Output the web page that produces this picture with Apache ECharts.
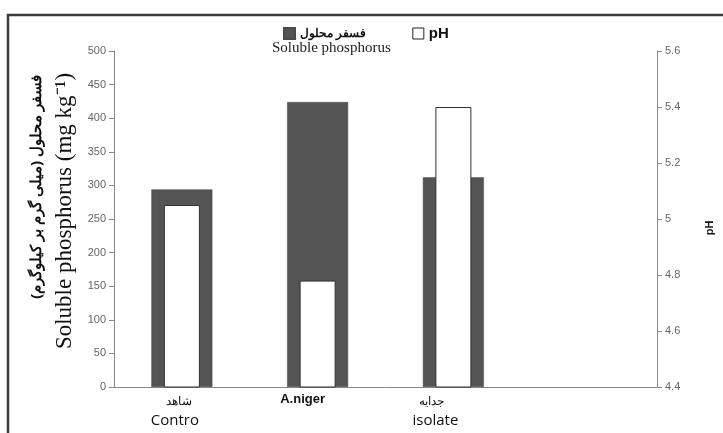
<!DOCTYPE html>
<html>
<head>
<meta charset="utf-8">
<script src="https://cdn.jsdelivr.net/npm/echarts@6/dist/echarts.min.js"></script>
<style>
  html, body { margin: 0; padding: 0; background: #fff; }
  #chart { width: 723px; height: 433px; }
</style>
</head>
<body>
<div id="chart"></div>
<script>
// categories (4th slot is empty in the original)
const categories = ['Contro', 'A.niger', 'isolate', ''];
// soluble phosphorus, mg/kg (left axis)
const phosphorus = [294, 424, 312, null];
// pH (right axis)
const phValues = [5.05, 4.78, 5.40, null];

const leftTicks = { min: 0, max: 500, interval: 50 };
const rightTicks = { min: 4.4, max: 5.6, interval: 0.2 };

const labelMap = {
  'Contro': '{ar1|شاهد}\n{en1|Contro}',
  'A.niger': '{b|A.niger}',
  'isolate': '{ar3|جدایه}\n{en3|isolate}',
  '': ''
};

const chart = echarts.init(document.getElementById('chart'));

const axisLabelStyle = { color: '#666', fontSize: 11, fontFamily: 'Liberation Sans' };

chart.setOption({
  animation: false,
  backgroundColor: '#fff',
  graphic: [{
    type: 'rect',
    shape: { x: 8, y: 15, width: 760, height: 460 },
    style: { fill: 'none', stroke: '#3c3c3c', lineWidth: 2.5 },
    silent: true
  }, {
    type: 'text',
    left: 272, top: 41,
    style: { text: 'Soluble phosphorus', font: '15px "Liberation Serif"', fill: '#222' }
  }],
  legend: {
    left: 278, top: 21,
    itemWidth: 11, itemHeight: 11, itemGap: 46,
    textStyle: { fontSize: 12, fontWeight: 'bold', color: '#111', fontFamily: 'Liberation Sans' },
    data: [
      { name: 'فسفر محلول', icon: 'rect' },
      { name: 'pH', icon: 'rect', itemStyle: { color: '#fff', borderColor: '#222', borderWidth: 1 }, textStyle: { fontSize: 15 } }
    ]
  },
  grid: { left: 114, right: 64, top: 51, bottom: 46 },
  xAxis: [{
    type: 'category',
    data: categories,
    axisLine: { lineStyle: { color: '#888' } },
    axisTick: { show: false },
    axisLabel: {
      margin: 6,
      formatter: v => labelMap[v],
      rich: {
        ar1: { fontSize: 12, lineHeight: 18, color: '#111', fontFamily: 'Noto Sans', padding: [0, 6, 0, 0] },
        en1: { fontSize: 15, lineHeight: 20, color: '#111', fontFamily: 'Open Sans', padding: [0, 14, 0, 0] },
        b: { fontSize: 13, lineHeight: 13, fontWeight: 'bold', color: '#111', fontFamily: 'Liberation Sans', padding: [0, 30, 0, 0] },
        ar3: { fontSize: 12, lineHeight: 18, color: '#111', fontFamily: 'Noto Sans', padding: [0, 44, 0, 0] },
        en3: { fontSize: 15, lineHeight: 20, color: '#111', fontFamily: 'Open Sans', padding: [0, 36, 0, 0] }
      }
    }
  }, {
    type: 'category',
    data: categories,
    show: false
  }],
  yAxis: [{
    type: 'value',
    min: leftTicks.min, max: leftTicks.max, interval: leftTicks.interval,
    position: 'left',
    axisLine: { show: true, lineStyle: { color: '#888' } },
    axisTick: { show: true, length: 5, lineStyle: { color: '#888' } },
    splitLine: { show: false },
    axisLabel: Object.assign({ margin: 8 }, axisLabelStyle),
    name: '{ar|فسفر محلول (میلی گرم بر کیلوگرم)}\n{en|Soluble phosphorus (mg kg⁻¹)}',
    nameLocation: 'middle',
    nameRotate: 90,
    nameGap: 31,
    nameTextStyle: {
      rich: {
        ar: { fontSize: 15, fontWeight: 'bold', lineHeight: 30, color: '#111', fontFamily: 'Noto Sans', padding: [0, 0, 0, 64] },
        en: { fontSize: 23, lineHeight: 28, color: '#111', fontFamily: 'Liberation Serif', padding: [0, 0, 0, 16] }
      }
    }
  }, {
    type: 'value',
    min: rightTicks.min, max: rightTicks.max, interval: rightTicks.interval,
    position: 'right',
    axisLine: { show: true, lineStyle: { color: '#888' } },
    axisTick: { show: true, length: 5, lineStyle: { color: '#888' } },
    splitLine: { show: false },
    axisLabel: Object.assign({ margin: 8 }, axisLabelStyle),
    name: 'pH',
    nameLocation: 'middle',
    nameRotate: 90,
    nameGap: 47,
    nameTextStyle: { fontSize: 11, fontWeight: 'bold', color: '#111', fontFamily: 'Liberation Sans', padding: [0, 0, 0, -18] }
  }],
  series: [{
    name: 'فسفر محلول',
    type: 'bar',
    xAxisIndex: 0,
    yAxisIndex: 0,
    data: phosphorus,
    barWidth: 61,
    itemStyle: { color: '#545454', borderColor: '#4a4a4a', borderWidth: 0.5 }
  }, {
    name: 'pH',
    type: 'bar',
    xAxisIndex: 1,
    yAxisIndex: 1,
    data: phValues,
    barWidth: 36,
    z: 3,
    itemStyle: { color: '#fff', borderColor: '#333', borderWidth: 1 }
  }]
});
</script>
</body>
</html>
